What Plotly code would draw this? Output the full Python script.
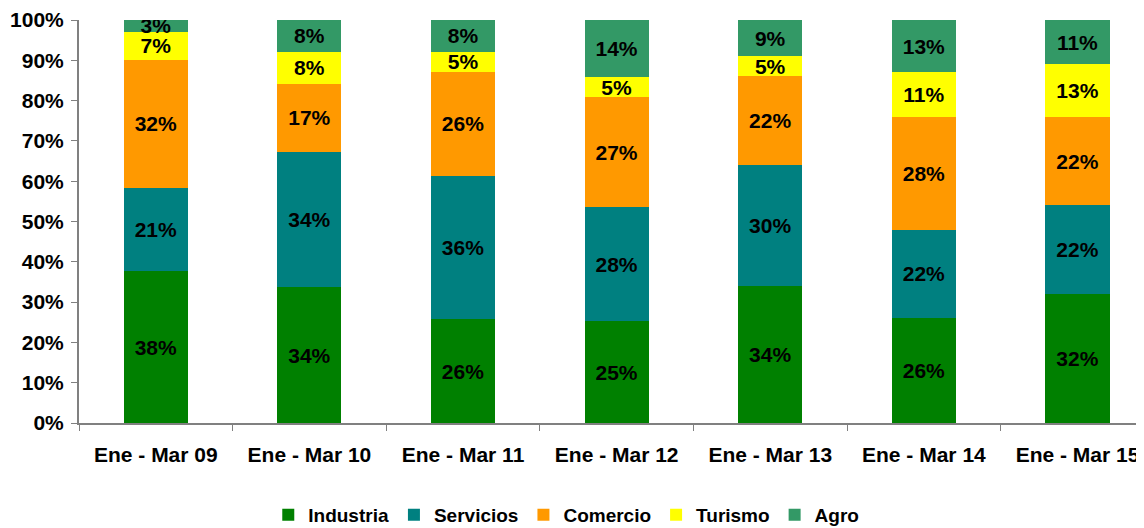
import plotly.graph_objects as go

categories = ["Ene - Mar 09", "Ene - Mar 10", "Ene - Mar 11", "Ene - Mar 12",
              "Ene - Mar 13", "Ene - Mar 14", "Ene - Mar 15"]
industria = [38, 34, 26, 25, 34, 26, 32]
servicios = [21, 34, 36, 28, 30, 22, 22]
comercio = [32, 17, 26, 27, 22, 28, 22]
turismo = [7, 8, 5, 5, 5, 11, 13]
agro = [3, 8, 8, 14, 9, 13, 11]

series = [
    ("Industria", industria, "#008000"),
    ("Servicios", servicios, "#008080"),
    ("Comercio", comercio, "#FF9900"),
    ("Turismo", turismo, "#FFFF00"),
    ("Agro", agro, "#339966"),
]

FONT = "Arial, 'Liberation Sans', sans-serif"

fig = go.Figure()
for name, vals, color in series:
    fig.add_trace(go.Bar(
        x=categories, y=vals, name=name,
        marker=dict(color=color, line=dict(width=0)),
        text=[f"{v}%" for v in vals],
        textposition="inside", insidetextanchor="middle", textangle=0,
        textfont=dict(family=FONT, size=21, color="black", weight="bold"),
    ))

fig.update_layout(
    barmode="stack", barnorm="percent", bargap=0.583,
    width=1144, height=528,
    margin=dict(l=71, r=0, t=12, b=113, autoexpand=False),
    paper_bgcolor="white", plot_bgcolor="white",
    font=dict(family=FONT, color="black", weight="bold"),
    uniformtext=dict(minsize=21, mode="show"),
    showlegend=True,
    legend=dict(orientation="h", xref="container", yref="container",
                x=0.488, xanchor="center", y=0.04, yanchor="middle",
                traceorder="normal",
                font=dict(family=FONT, size=19, color="black", weight="bold"),
                itemwidth=30, tracegroupgap=0),
)
fig.update_xaxes(
    range=[-0.5, 6.485], showline=True, linecolor="#808080", linewidth=2,
    ticks="outside", tickson="boundaries", ticklen=6, tickcolor="#808080", tickwidth=1,
    tickfont=dict(family=FONT, size=21, color="black", weight="bold"), showgrid=False,
    automargin=False, ticklabelstandoff=12, ticklabeloverflow="allow",
)
fig.update_yaxes(
    range=[0, 100], dtick=10, ticksuffix="%", showline=True, linecolor="#808080", linewidth=2,
    ticks="outside", ticklen=6, tickcolor="#808080", tickwidth=1,
    tickfont=dict(family=FONT, size=21, color="black", weight="bold"), showgrid=False,
    zeroline=False, automargin=False, ticklabelstandoff=3, ticklabeloverflow="allow",
)

fig.write_html("out.html")
